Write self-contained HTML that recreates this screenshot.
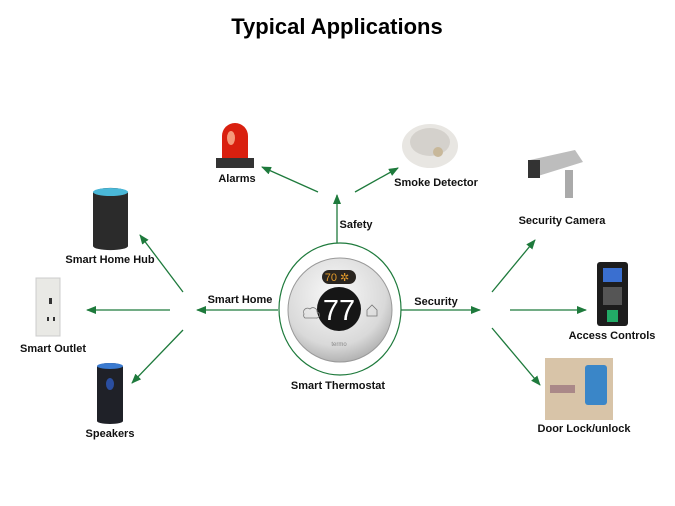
<!DOCTYPE html>
<html><head><meta charset="utf-8"><style>
html,body{margin:0;padding:0;background:#fff;}
svg{display:block;font-family:"Liberation Sans",sans-serif;}
.l{font-size:11px;font-weight:bold;fill:#111;text-anchor:middle;}
.a{stroke:#1e7a3c;stroke-width:1.3;fill:none;marker-end:url(#ar);}
</style></head><body>
<svg width="675" height="506" viewBox="0 0 675 506">
<defs>
<marker id="ar" markerWidth="10" markerHeight="8" refX="9" refY="4" orient="auto" markerUnits="userSpaceOnUse"><path d="M0,0 L10,4 L0,8 Z" fill="#1e7a3c"/></marker>
<radialGradient id="sil" cx="45%" cy="35%" r="70%"><stop offset="0" stop-color="#fafafa"/><stop offset="0.7" stop-color="#d9d9d9"/><stop offset="1" stop-color="#a8a8a8"/></radialGradient>
</defs>
<text x="337" y="34" font-size="22" font-weight="bold" text-anchor="middle" fill="#000">Typical Applications</text>

<!-- thermostat -->
<ellipse cx="340" cy="309" rx="61" ry="66" fill="none" stroke="#1e7a3c" stroke-width="1.2"/>
<circle cx="340" cy="310" r="52" fill="url(#sil)" stroke="#999" stroke-width="1"/>
<rect x="322" y="270" width="34" height="14" rx="7" fill="#2a2520"/>
<text x="337" y="281" font-size="11" fill="#e39a2a" text-anchor="middle">70 ✲</text>
<circle cx="339" cy="309" r="22" fill="#161616"/>
<text x="339" y="320" font-size="29" fill="#fff" text-anchor="middle">77</text>
<text x="339" y="346" font-size="6" fill="#888" text-anchor="middle">termo</text>
<path d="M304,314 a4,4 0 0 1 6,-5 a4,4 0 0 1 7,3 a3,3 0 0 1 -1,6 h-11 a3,3 0 0 1 -1,-4z" fill="none" stroke="#777" stroke-width="0.8"/>
<path d="M367,316 v-6 l5,-5 l5,5 v6 z" fill="none" stroke="#777" stroke-width="0.8"/>
<text class="l" x="338" y="389">Smart Thermostat</text>

<!-- connectors -->
<line class="a" x1="337" y1="243" x2="337" y2="195"/>
<text class="l" x="356" y="228">Safety</text>
<line class="a" x1="318" y1="192" x2="262" y2="167"/>
<line class="a" x1="355" y1="192" x2="398" y2="168"/>
<line class="a" x1="278" y1="310" x2="197" y2="310"/>
<text class="l" x="240" y="303">Smart Home</text>
<line class="a" x1="170" y1="310" x2="87" y2="310"/>
<line class="a" x1="183" y1="292" x2="140" y2="235"/>
<line class="a" x1="183" y1="330" x2="132" y2="383"/>
<line class="a" x1="401" y1="310" x2="480" y2="310"/>
<text class="l" x="436" y="305">Security</text>
<line class="a" x1="492" y1="292" x2="535" y2="240"/>
<line class="a" x1="510" y1="310" x2="586" y2="310"/>
<line class="a" x1="492" y1="328" x2="540" y2="385"/>

<!-- alarm -->
<rect x="216" y="158" width="38" height="10" fill="#333"/>
<path d="M222,158 v-22 a13,13 0 0 1 26,0 v22z" fill="#d9200f"/>
<ellipse cx="231" cy="138" rx="4" ry="7" fill="#f59a7a"/>
<text class="l" x="237" y="182">Alarms</text>
<!-- smoke detector -->
<ellipse cx="430" cy="146" rx="28" ry="22" fill="#e8e6e2"/>
<ellipse cx="430" cy="142" rx="20" ry="14" fill="#d4d1cc"/>
<circle cx="438" cy="152" r="5" fill="#c8b89a"/>
<text class="l" x="436" y="186">Smoke Detector</text>
<!-- camera -->
<path d="M530,160 l45,-10 l8,12 l-45,14 z" fill="#bdbdbd"/>
<rect x="528" y="160" width="12" height="18" fill="#333"/>
<rect x="565" y="170" width="8" height="28" fill="#aaa"/>
<text class="l" x="562" y="224">Security Camera</text>
<!-- access -->
<rect x="597" y="262" width="31" height="64" rx="3" fill="#1d1d1d"/>
<rect x="603" y="268" width="19" height="14" fill="#3a6fd0"/>
<rect x="603" y="287" width="19" height="18" fill="#555"/>
<rect x="607" y="310" width="11" height="12" fill="#2a6" />
<text class="l" x="612" y="339">Access Controls</text>
<!-- door lock -->
<rect x="545" y="358" width="68" height="62" fill="#d8c4a8"/>
<rect x="585" y="365" width="22" height="40" rx="3" fill="#3a86c8"/>
<rect x="550" y="385" width="25" height="8" fill="#a88"/>
<text class="l" x="584" y="432">Door Lock/unlock</text>
<!-- hub -->
<path d="M93,193 a17,5 0 0 1 35,0 v53 a17,4 0 0 1 -35,0z" fill="#2b2b2b"/>
<ellipse cx="110.5" cy="192" rx="17.5" ry="4" fill="#4ab8d8"/>
<text class="l" x="110" y="263">Smart Home Hub</text>
<!-- outlet -->
<rect x="36" y="278" width="24" height="58" fill="#e9e9e5" stroke="#ccc"/>
<rect x="49" y="298" width="3" height="6" fill="#333"/><rect x="47" y="317" width="2" height="4" fill="#333"/><rect x="53" y="317" width="2" height="4" fill="#333"/>
<text class="l" x="53" y="352">Smart Outlet</text>
<!-- speaker -->
<path d="M97,367 a13,4 0 0 1 26,0 v54 a13,3 0 0 1 -26,0z" fill="#1f2128"/>
<ellipse cx="110" cy="366" rx="13" ry="3" fill="#3a7ad0"/>
<ellipse cx="110" cy="384" rx="4" ry="6" fill="#2a4ea0"/>
<text class="l" x="110" y="437">Speakers</text>
</svg>
</body></html>
